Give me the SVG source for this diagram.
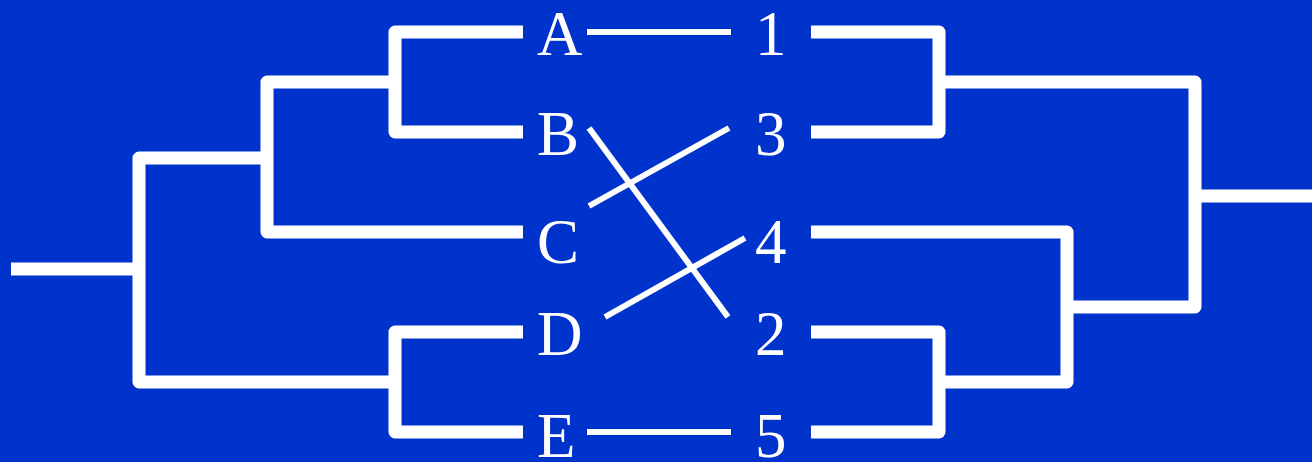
<svg xmlns="http://www.w3.org/2000/svg" width="1312" height="462" viewBox="0 0 1312 462">
<style>
.br{fill:none;stroke:#fff;stroke-width:13;stroke-linejoin:round;stroke-linecap:butt}
.ln{fill:none;stroke:#fff;stroke-width:6;stroke-linecap:butt}
.t{font-family:"Liberation Serif","Times New Roman",serif;font-size:63px;fill:#fff}
</style>
<rect width="1312" height="462" fill="#0033cc"/>
<g id="connectors">
<path class="br" d="M11,269 H139"/>
<path class="br" d="M267,158 H139 V382 H395"/>
<path class="br" d="M395,82 H267 V232 H523"/>
<path class="br" d="M523,32 H395 V132 H523"/>
<path class="br" d="M523,332 H395 V432 H523"/>
<path class="br" d="M811,32 H939 V132 H811"/>
<path class="br" d="M939,82 H1195 V307 H1067"/>
<path class="br" d="M1195,196 H1312"/>
<path class="br" d="M811,232 H1067 V382 H939"/>
<path class="br" d="M811,332 H939 V432 H811"/>
<path class="ln" d="M587,32 H731"/>
<path class="ln" d="M587,432 H731"/>
<path class="ln" d="M589,128 L728,317"/>
<path class="ln" d="M589,206 L729,128"/>
<path class="ln" d="M605,317 L745,238"/>
</g>
<g id="node-A"><text class="t" x="537" y="55">A</text></g>
<g id="node-B"><text class="t" x="537" y="155">B</text></g>
<g id="node-C"><text class="t" x="537" y="263">C</text></g>
<g id="node-D"><text class="t" x="537" y="355">D</text></g>
<g id="node-E"><text class="t" x="537" y="457">E</text></g>
<g id="node-1"><text class="t" x="755" y="55">1</text></g>
<g id="node-3"><text class="t" x="755" y="155">3</text></g>
<g id="node-4"><text class="t" x="755" y="263">4</text></g>
<g id="node-2"><text class="t" x="755" y="355">2</text></g>
<g id="node-5"><text class="t" x="755" y="457">5</text></g>
</svg>
